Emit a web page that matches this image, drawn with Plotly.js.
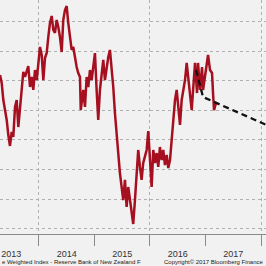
<!DOCTYPE html>
<html>
<head>
<meta charset="utf-8">
<script src="https://cdn.plot.ly/plotly-3.0.1.min.js"></script>
<style>
html,body{margin:0;padding:0;background:#f1f1f1;}
#chart{width:266px;height:266px;}
</style>
</head>
<body>
<div id="chart"></div>
<script>
// NZD trade weighted index (decimal years, index level)
const years = [
2013.297,2013.328,2013.357,2013.387,2013.418,2013.447,2013.477,2013.508,2013.537,2013.568,
2013.598,2013.627,2013.658,2013.688,2013.717,2013.748,2013.778,2013.807,2013.838,2013.868,
2013.897,2013.928,2013.959,2013.987,2014.018,2014.049,2014.078,2014.108,2014.139,2014.168,
2014.198,2014.229,2014.258,2014.288,2014.319,2014.348,2014.378,2014.409,2014.438,2014.468,
2014.499,2014.528,2014.559,2014.589,2014.618,2014.649,2014.679,2014.708,2014.739,2014.753,
2014.775,2014.798,2014.829,2014.859,2014.888,2014.919,2014.949,2014.978,2015.009,2015.039,
2015.068,2015.099,2015.130,2015.159,2015.189,2015.220,2015.249,2015.279,2015.310,2015.339,
2015.369,2015.400,2015.429,2015.459,2015.490,2015.519,2015.550,2015.580,2015.609,2015.640,
2015.670,2015.699,2015.730,2015.760,2015.789,2015.820,2015.850,2015.879,2015.910,2015.941,
2015.970,2016.000,2016.031,2016.060,2016.090,2016.121,2016.150,2016.180,2016.211,2016.240,
2016.270,2016.301,2016.330,2016.361,2016.391,2016.420,2016.451,2016.481,2016.510,2016.541,
2016.571,2016.600,2016.631,2016.661,2016.690,2016.721,2016.751,2016.780,2016.811,2016.847,
2016.865,2016.901,2016.937,2016.955,2016.991,2017.027,2017.045,2017.081,2017.117,2017.135,
2017.153,2017.189
];
const twi = [
76.39,75.85,74.70,74.02,73.35,72.33,71.59,72.54,72.20,74.23,
74.70,72.87,74.02,75.17,76.60,76.26,76.73,77.00,75.58,76.26,
75.38,76.73,76.05,77.41,78.29,77.75,76.05,77.54,77.88,78.97,
79.91,80.39,79.44,79.24,80.12,79.64,78.97,77.95,80.12,80.79,
81.06,79.91,78.76,78.09,78.29,77.41,76.93,76.53,76.26,74.02,
74.70,75.38,74.23,76.26,75.58,76.73,76.05,76.93,77.88,75.38,
73.35,75.38,76.53,77.41,76.05,76.93,77.61,78.09,76.93,75.58,
73.82,72.20,70.64,69.76,68.81,67.93,69.29,67.46,68.81,67.93,
66.78,66.31,67.93,69.96,71.32,70.17,69.29,70.44,70.84,71.32,
72.60,70.84,68.81,71.32,70.44,71.11,70.17,71.52,70.64,71.32,
70.30,70.98,70.10,70.64,71.99,72.87,74.70,75.38,74.02,73.01,
74.70,75.38,76.05,77.21,76.05,75.17,74.02,75.58,77.21,75.17,
77.21,75.38,76.93,75.38,76.26,77.41,77.75,76.73,76.53,75.17,
74.02,74.50
];
// forecast (dashed)
const fcYears = [2016.829, 2016.955, 2018.245];
const fcTwi = [76.73, 74.90, 72.77];

function toDate(y){
  const yr = Math.floor(y);
  const s = Date.UTC(yr,0,1), e = Date.UTC(yr+1,0,1);
  return new Date(s + (y-yr)*(e-s)).toISOString().slice(0,19);
}
const xRange = [toDate(2013.297), toDate(2018.090)];

const traces = [
  {x: years.map(toDate), y: twi, type:'scatter', mode:'lines',
   line:{color:'#a50f1f', width:2.5}, hoverinfo:'skip'},
  {x: fcYears.map(toDate), y: fcTwi, type:'scatter', mode:'lines', xaxis:'x2',
   line:{color:'#111111', width:2.3, dash:'6px,4px'}, hoverinfo:'skip'}
];

const layout = {
  width:266, height:266,
  margin:{l:0, r:0, t:0, b:32, pad:0},
  paper_bgcolor:'#f1f1f1', plot_bgcolor:'#f1f1f1',
  showlegend:false,
  font:{family:'Liberation Sans, Arial, sans-serif', color:'#333'},
  xaxis:{type:'date', range:xRange, dtick:'M12', tick0:'2013-01-01',
    ticklabelmode:'period', tickformat:'%Y', ticks:'outside', ticklen:11,
    tickcolor:'#8a8a8a', tickwidth:1, showline:true, linecolor:'#8a8a8a', linewidth:1,
    showgrid:false, zeroline:false, tickfont:{size:9, color:'#333'}, fixedrange:true},
  xaxis2:{type:'date', overlaying:'x', range:xRange, dtick:'M24', tick0:'2014-01-01',
    showticklabels:false, ticks:'', showline:false, showgrid:true,
    gridcolor:'#b0b0b0', griddash:'dot', gridwidth:1, zeroline:false},
  yaxis:{range:[65.632, 81.469], dtick:2, tick0:0, showticklabels:false, ticks:'',
    showgrid:true, gridcolor:'#b0b0b0', griddash:'dot', gridwidth:1,
    zeroline:false, showline:false},
  annotations:[
    {xref:'paper', yref:'paper', x:0, y:0, xanchor:'left', yanchor:'top', yshift:-23,
     text:'e Weighted Index - Reserve Bank of New Zealand F', showarrow:false,
     font:{size:6, color:'#222'}},
    {xref:'paper', yref:'paper', x:265/266, y:0, xanchor:'right', yanchor:'top', yshift:-23,
     text:'Copyright© 2017 Bloomberg Finance', showarrow:false,
     font:{size:6, color:'#222'}}
  ]
};
Plotly.newPlot('chart', traces, layout, {staticPlot:true, displayModeBar:false});
</script>
</body>
</html>
